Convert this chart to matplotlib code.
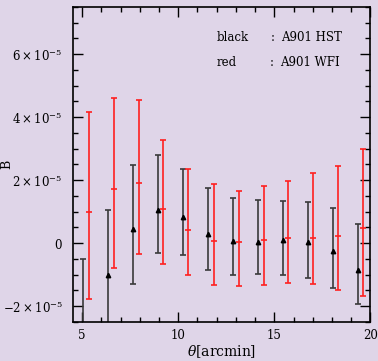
import matplotlib
matplotlib.use("Agg")
import matplotlib.pyplot as plt
from matplotlib.ticker import MultipleLocator, FixedLocator, FixedFormatter
import numpy as np

plt.rcParams['font.family'] = ['DejaVu Serif']
plt.rcParams['mathtext.fontset'] = 'dejavuserif'

# ---- data (values in units of 1e-5) ----
black_x = [5.02, 6.33, 7.65, 8.95, 10.25, 11.55, 12.85, 14.15, 15.45, 16.75, 18.05, 19.35]
black_y = [-3.0, -1.01, 0.45, 1.07, 0.82, 0.30, 0.06, 0.04, 0.11, 0.04, -0.24, -0.84]
black_lo = [-5.5, -3.08, -1.30, -0.31, -0.36, -0.84, -1.02, -0.98, -1.01, -1.10, -1.42, -1.93]
black_hi = [-0.50, 1.06, 2.47, 2.79, 2.34, 1.75, 1.45, 1.37, 1.35, 1.31, 1.12, 0.62]

red_x = [5.35, 6.65, 7.95, 9.23, 10.53, 11.85, 13.15, 14.45, 15.72, 17.02, 18.32, 19.62]
red_y = [0.98, 1.72, 1.90, 1.10, 0.41, 0.06, 0.03, 0.11, 0.17, 0.15, 0.23, 0.48]
red_lo = [-1.77, -0.79, -0.34, -0.66, -1.01, -1.32, -1.35, -1.31, -1.26, -1.29, -1.50, -1.68]
red_hi = [4.15, 4.60, 4.53, 3.28, 2.37, 1.88, 1.67, 1.82, 1.96, 2.22, 2.44, 3.00]

ytick_vals = [-2e-5, 0, 2e-5, 4e-5, 6e-5]
ytick_labels = [r'$-2\times10^{-5}$', r'$0$', r'$2\times10^{-5}$', r'$4\times10^{-5}$', r'$6\times10^{-5}$']
xtick_vals = [5, 10, 15, 20]

SCALE = 1e-5
bg = '#dfd5e8'

fig = plt.figure(figsize=(3.78, 3.61), dpi=100, facecolor=bg)
ax = fig.add_axes([0.192, 0.108, 0.788, 0.873], facecolor=bg)

def err(y, lo, hi):
    y = np.array(y) * SCALE
    lo = np.array(lo) * SCALE
    hi = np.array(hi) * SCALE
    return y, np.vstack([y - lo, hi - y])

by, berr = err(black_y, black_lo, black_hi)
ry, rerr = err(red_y, red_lo, red_hi)

ax.errorbar(black_x, by, yerr=berr, fmt='^', color='black', ecolor='#3a3a3a',
            elinewidth=1.2, capsize=2.2, capthick=1.2, markersize=3.2)
ax.errorbar(red_x, ry, yerr=rerr, fmt='_', color='#ff2020', ecolor='#ff2020',
            elinewidth=1.2, capsize=2.2, capthick=1.2, markersize=4.5, markeredgewidth=1.2)

ax.set_xlim(4.5, 20)
ax.set_ylim(-2.5e-5, 7.5e-5)

ax.xaxis.set_major_locator(FixedLocator(xtick_vals))
ax.xaxis.set_minor_locator(MultipleLocator(1))
ax.yaxis.set_major_locator(FixedLocator(ytick_vals))
ax.yaxis.set_major_formatter(FixedFormatter(ytick_labels))
ax.yaxis.set_minor_locator(MultipleLocator(0.5e-5))

ax.tick_params(which='both', direction='in', top=True, right=True, width=1.0)
ax.tick_params(which='major', length=7, labelsize=8.5)
ax.tick_params(axis='y', which='major', pad=7)
ax.tick_params(axis='x', which='major', pad=5)
ax.tick_params(which='minor', length=3.5)
for s in ax.spines.values():
    s.set_linewidth(1.2)

ax.set_xlabel(r'$\theta$[arcmin]', fontsize=10, labelpad=1)
ax.set_ylabel('B', fontsize=9)
ax.yaxis.set_label_coords(-0.200, 0.5)

fs = 8.5
ax.text(0.485, 0.902, 'black', transform=ax.transAxes, fontsize=fs, va='center')
ax.text(0.665, 0.902, ':', transform=ax.transAxes, fontsize=fs, va='center')
ax.text(0.700, 0.902, 'A901 HST', transform=ax.transAxes, fontsize=fs, va='center')
ax.text(0.485, 0.822, 'red', transform=ax.transAxes, fontsize=fs, va='center')
ax.text(0.662, 0.822, ':', transform=ax.transAxes, fontsize=fs, va='center')
ax.text(0.697, 0.822, 'A901 WFI', transform=ax.transAxes, fontsize=fs, va='center')

fig.savefig('out.png', dpi=100, facecolor=bg)
